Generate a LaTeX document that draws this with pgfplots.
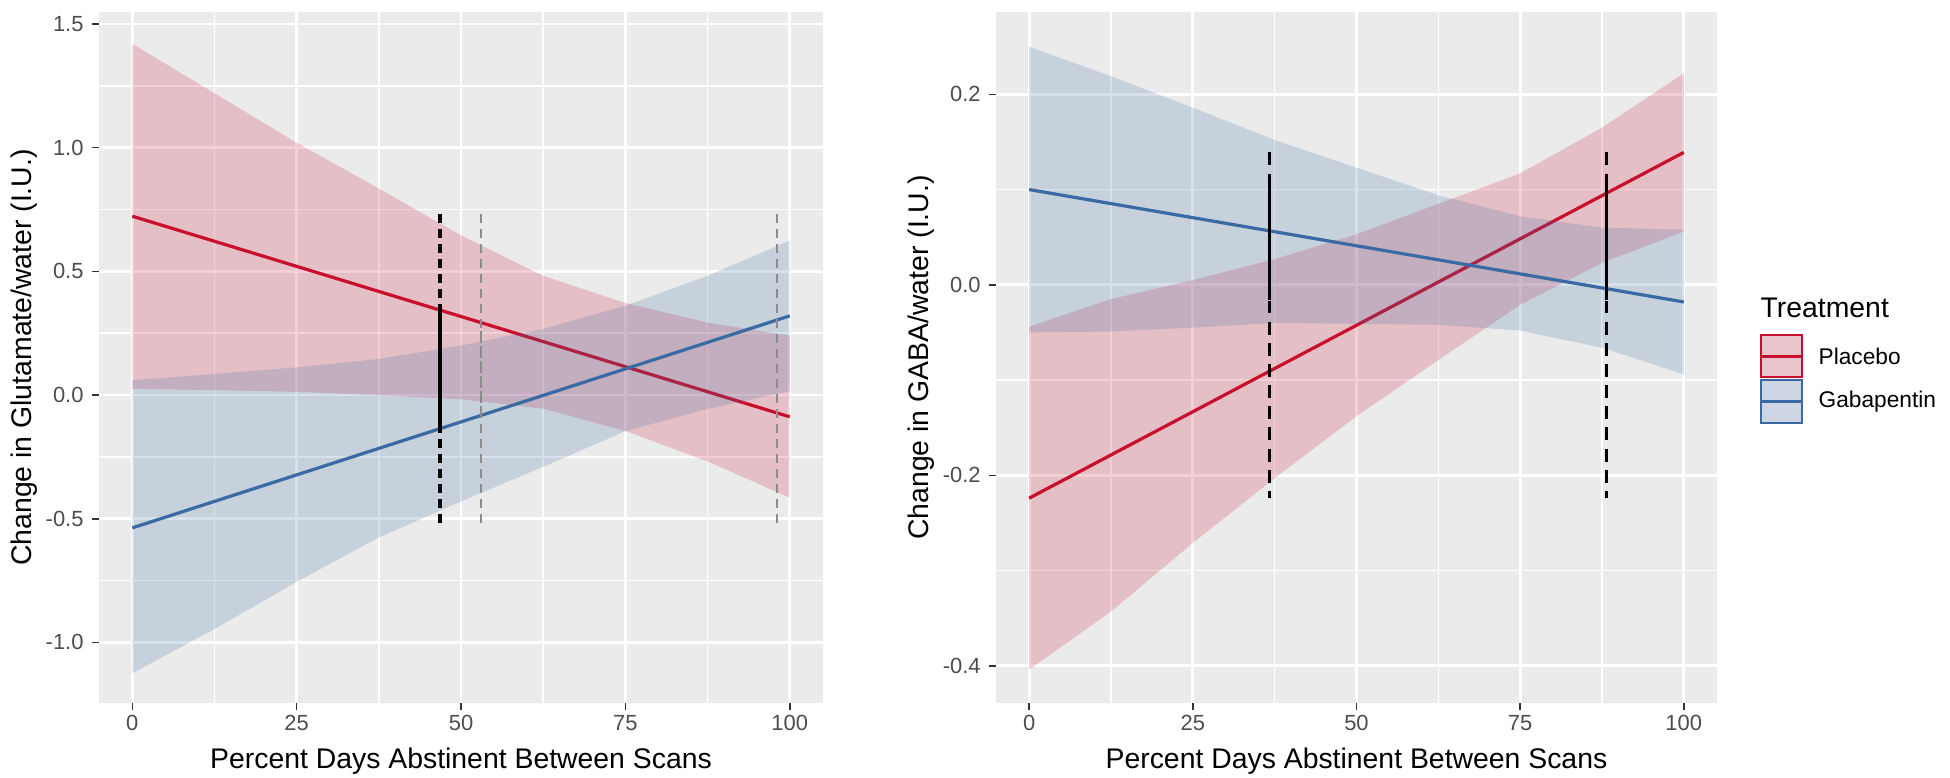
\documentclass[border=0pt]{standalone}
\usepackage{pgfplots}
\pgfplotsset{compat=1.18}
\usepackage{fontspec}
\setmainfont{Liberation Sans}

\definecolor{panelbg}{HTML}{EBEBEB}
\definecolor{plred}{HTML}{C8102E}
\definecolor{plblue}{HTML}{3A6AA3}
\definecolor{grey30}{HTML}{4D4D4D}
\definecolor{grey20}{HTML}{333333}
\definecolor{dashgrey}{HTML}{8C8C8C}
\definecolor{keybg}{HTML}{F2F2F2}

\pgfplotsset{
  ggpanel/.style={
    anchor=south west, scale only axis,
    width=280.3pt, height=267.7pt,
    xmin=-5, xmax=105,
    axis background/.style={fill=panelbg},
    axis line style={draw=none},
    xtick={0,25,50,75,100},
    xticklabels={0,25,50,75,100},
    minor xtick={12.5,37.5,62.5,87.5},
    grid=both,
    major grid style={white, line width=1.1pt},
    minor grid style={white, line width=0.55pt},
    tick align=outside, xtick pos=left, ytick pos=left,
    major tick length=2.75pt, minor tick length=0pt,
    every tick/.style={grey20, line width=0.6pt},
    tick label style={font=\fontsize{8.5}{10}\selectfont, text=grey30, inner sep=0pt},
    yticklabel style={anchor=east, xshift=-3.2pt},
    xticklabel style={anchor=north, yshift=-1.8pt},
    label style={font=\fontsize{11}{13}\selectfont, inner sep=0pt},
    xlabel style={at={(axis description cs:0.5,0)}, anchor=base, yshift=-25.3pt},
    ylabel style={at={([xshift=-26.5pt]axis description cs:0,0.5)}, rotate=0, anchor=base},
    xlabel={Percent Days Abstinent Between Scans},
  },
  band/.style={draw=none, fill=#1, fill opacity=0.2, forget plot},
  fit/.style={draw=#1, line width=1.25pt, forget plot},
}

\begin{document}
\begin{tikzpicture}
\path[use as bounding box] (0,0) rectangle (755.8pt,301.2pt);

% left panel: glutamate
\begin{axis}[ggpanel, at={(38.53pt,28.80pt)},
    ymin=-1.244, ymax=1.548,
    ytick={-1,-0.5,0,0.5,1,1.5},
    yticklabels={-1.0,-0.5,0.0,0.5,1.0,1.5},
    minor ytick={-0.75,-0.25,0.25,0.75,1.25},
    ylabel={Change in Glutamate/water (I.U.)}]
  \addplot[band=plred] coordinates {
    (0,1.42) (12.5,1.22) (25,1.02) (37.5,0.835) (50,0.645) (62.5,0.482) (75,0.372) (87.5,0.293) (100,0.24)
    (100,-0.415) (87.5,-0.268) (75,-0.145) (62.5,-0.055) (50,-0.017) (37.5,0.0) (25,0.013) (12.5,0.02) (0,0.025)};
  \addplot[fit=plred] coordinates {(0,0.723) (100,-0.088)};
  \addplot[band=plblue] coordinates {
    (0,0.06) (12.5,0.085) (25,0.112) (37.5,0.146) (50,0.2) (62.5,0.267) (75,0.361) (87.5,0.482) (100,0.624)
    (100,0.016) (87.5,-0.056) (75,-0.146) (62.5,-0.29) (50,-0.43) (37.5,-0.576) (25,-0.755) (12.5,-0.946) (0,-1.125)};
  \addplot[fit=plblue] coordinates {(0,-0.537) (100,0.320)};
  % cut points
  \addplot[black, line width=1.3pt, dash pattern=on 3.4pt off 2.4pt] coordinates {(46.8,0.73) (46.8,-0.535)};
  \addplot[black, line width=1.3pt] coordinates {(46.8,0.357) (46.8,-0.14)};
  \addplot[dashgrey, line width=0.8pt, dash pattern=on 3.4pt off 2.4pt] coordinates {(53.0,0.73) (53.0,-0.535)};
  \addplot[dashgrey, line width=0.8pt, dash pattern=on 3.4pt off 2.4pt, dash phase=2.9pt] coordinates {(53.0,0.29) (53.0,-0.08)};
  \addplot[dashgrey, line width=0.8pt, dash pattern=on 3.4pt off 2.4pt] coordinates {(98.1,0.73) (98.1,-0.535)};
\end{axis}

% right panel: GABA
\begin{axis}[ggpanel, at={(386.2pt,28.80pt)}, width=279.1pt,
    ymin=-0.4388, ymax=0.2863,
    ytick={-0.4,-0.2,0,0.2},
    yticklabels={-0.4,-0.2,0.0,0.2},
    minor ytick={-0.3,-0.1,0.1},
    ylabel={Change in GABA/water (I.U.)}]
  \addplot[band=plred] coordinates {
    (0,-0.044) (12.5,-0.015) (25,0.005) (37.5,0.027) (50,0.053) (62.5,0.085) (75,0.117) (87.5,0.165) (100,0.222)
    (100,0.056) (87.5,0.023) (75,-0.021) (62.5,-0.079) (50,-0.138) (37.5,-0.203) (25,-0.271) (12.5,-0.343) (0,-0.404)};
  \addplot[fit=plred] coordinates {(0,-0.224) (100,0.139)};
  \addplot[band=plblue] coordinates {
    (0,0.250) (12.5,0.219) (25,0.186) (37.5,0.152) (50,0.123) (62.5,0.094) (75,0.072) (87.5,0.060) (100,0.058)
    (100,-0.094) (87.5,-0.066) (75,-0.048) (62.5,-0.042) (50,-0.041) (37.5,-0.040) (25,-0.045) (12.5,-0.049) (0,-0.050)};
  \addplot[fit=plblue] coordinates {(0,0.100) (100,-0.018)};
  \addplot[black, line width=1pt, dash pattern=on 5pt off 3.2pt] coordinates {(36.7,0.139) (36.7,-0.224)};
  \addplot[black, line width=1pt] coordinates {(36.7,0.110) (36.7,-0.016)};
  \addplot[black, line width=1pt, dash pattern=on 5pt off 3.2pt] coordinates {(88.2,0.139) (88.2,-0.224)};
  \addplot[black, line width=1pt] coordinates {(88.2,0.110) (88.2,-0.016)};
\end{axis}

% legend
\node[anchor=base west, inner sep=0pt, font=\fontsize{11}{13}\selectfont] at (682.2pt,178.0pt) {Treatment};
\fill[keybg] (682.6pt,155.0pt) rectangle (698.5pt,171.3pt);
\fill[plred, opacity=0.2] (682.6pt,155.0pt) rectangle (698.5pt,171.3pt);
\draw[plred, line width=0.8pt] (682.6pt,155.0pt) rectangle (698.5pt,171.3pt);
\draw[plred, line width=1.25pt] (682.6pt,163.15pt) -- (698.5pt,163.15pt);
\node[anchor=west, inner sep=0pt, font=\fontsize{8.8}{10}\selectfont] at (704.7pt,163.15pt) {Placebo};
\fill[keybg] (682.6pt,137.2pt) rectangle (698.5pt,153.9pt);
\fill[plblue, opacity=0.2] (682.6pt,137.2pt) rectangle (698.5pt,153.9pt);
\draw[plblue, line width=0.8pt] (682.6pt,137.2pt) rectangle (698.5pt,153.9pt);
\draw[plblue, line width=1.25pt] (682.6pt,145.55pt) -- (698.5pt,145.55pt);
\node[anchor=west, inner sep=0pt, font=\fontsize{8.8}{10}\selectfont] at (704.7pt,145.55pt) {Gabapentin};
\end{tikzpicture}
\end{document}
